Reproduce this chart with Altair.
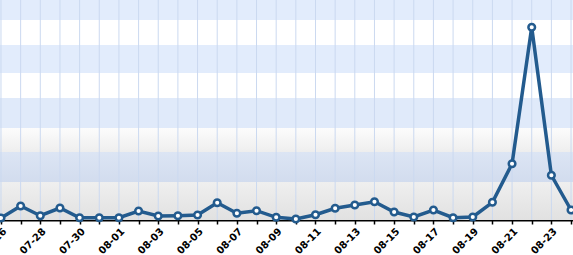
import altair as alt
import pandas as pd

dates = ["07-26", "07-27", "07-28", "07-29", "07-30", "07-31", "08-01", "08-02",
         "08-03", "08-04", "08-05", "08-06", "08-07", "08-08", "08-09", "08-10",
         "08-11", "08-12", "08-13", "08-14", "08-15", "08-16", "08-17", "08-18",
         "08-19", "08-20", "08-21", "08-22", "08-23", "08-24"]
values = [2, 14, 4.3, 12, 2.3, 2.3, 2.3, 9, 4, 4.3, 5, 17.3, 6.7, 9.3, 2.7, 1,
          5.3, 11.7, 15, 18.3, 8, 3, 10, 2.3, 3, 17.7, 56.3, 192.7, 44.7, 10]

band_lo = [92, 122, 147, 175, 200]
band_hi = [122, 147, 175, 200, 220]
band_col = ["#e0eafa", "#ffffff", "#e2ecfc", "#ffffff", "#e2ecfc"]

grad_lo = [0, 38, 68]
grad_hi = [38, 68, 92]
grad_top = ["#efefef", "#dce5f4", "#fcfcfc"]
grad_bot = ["#e1e1e1", "#d2dcee", "#eeeeee"]

df = pd.DataFrame({"i": list(range(len(dates))), "date": dates, "v": values})
bands = pd.DataFrame({"lo": band_lo, "hi": band_hi, "c": band_col})

xdom = [-0.05, 29.1]
ydom = [0, 220]
labels_js = "[" + ",".join("'" + d + "'" for d in dates) + "]"
label_expr = "datum.value % 2 == 0 ? " + labels_js + "[datum.value] : ''"

xs = alt.Scale(domain=xdom, nice=False, zero=False)
ys = alt.Scale(domain=ydom, nice=False, zero=False)

xaxis = alt.Axis(values=list(range(len(dates))),
                 labelExpr=label_expr,
                 labelAngle=-45, labelAlign="right", labelBaseline="top",
                 labelFont="DejaVu Sans", labelFontSize=10, labelFontWeight="bold",
                 labelColor="#000000", labelPadding=2, labelOverlap=False,
                 labelBound=False, labelFlush=False,
                 tickColor="#000000", tickSize=4, tickWidth=1.5,
                 domainColor="#000000", domainWidth=2,
                 grid=False, title=None)

band_layer = alt.Chart(bands).mark_rect().encode(
    x=alt.value(0), x2=alt.value(573),
    y=alt.Y("lo:Q", scale=ys, axis=None), y2="hi:Q",
    fill=alt.Fill("c:N", scale=None),
)

grad_layers = []
for lo, hi, top, bot in zip(grad_lo, grad_hi, grad_top, grad_bot):
    gdf = pd.DataFrame({"lo": [lo], "hi": [hi]})
    grad_layers.append(
        alt.Chart(gdf).mark_rect(
            fill=alt.LinearGradient(
                gradient="linear",
                stops=[alt.GradientStop(color=top, offset=0),
                       alt.GradientStop(color=bot, offset=1)],
                x1=0, x2=0, y1=0, y2=1)
        ).encode(
            x=alt.value(0), x2=alt.value(573),
            y=alt.Y("lo:Q", scale=ys, axis=None), y2="hi:Q",
        )
    )

grid = alt.Chart(df).mark_rule(color="#cbd9f0", strokeWidth=1).encode(
    x=alt.X("i:Q", scale=xs, axis=xaxis),
    y=alt.value(0), y2=alt.value(220),
)

line = alt.Chart(df).mark_line(color="#235b8e", strokeWidth=3.5).encode(
    x=alt.X("i:Q", scale=xs, axis=xaxis),
    y=alt.Y("v:Q", scale=ys, axis=None),
)

points = alt.Chart(df).mark_point(
    shape="circle", filled=True, fill="#ffffff", stroke="#235b8e",
    strokeWidth=2.5, size=44, opacity=1
).encode(
    x=alt.X("i:Q", scale=xs, axis=xaxis),
    y=alt.Y("v:Q", scale=ys, axis=None),
)

chart = alt.layer(band_layer, *grad_layers, grid, line, points).properties(
    width=573, height=220,
    padding={"left": 0, "right": 0, "top": 0, "bottom": 35},
    autosize=alt.AutoSizeParams(type="none"),
).configure_view(strokeWidth=0)

chart.save("out.html", embed_options={"renderer": "svg", "actions": False})
